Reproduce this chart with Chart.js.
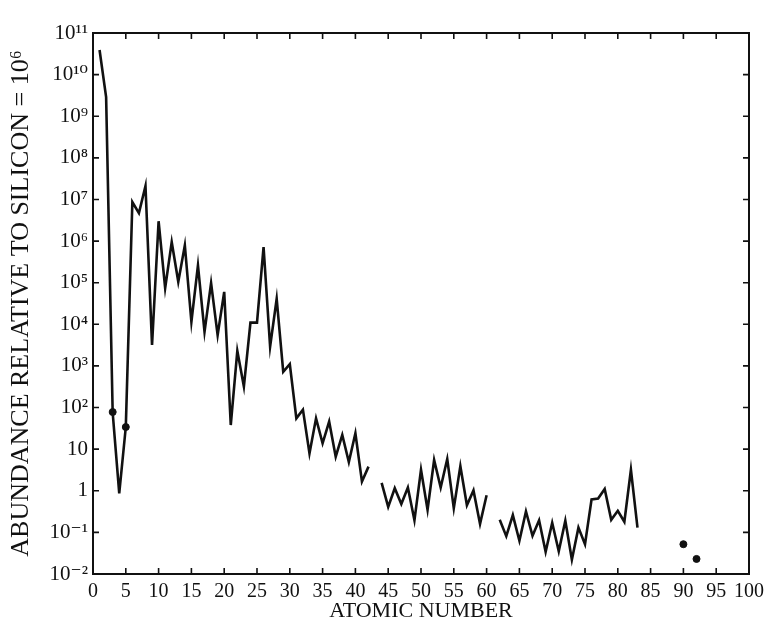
<!DOCTYPE html>
<html>
<head>
<meta charset="utf-8">
<title>Solar system abundances</title>
<script src="https://cdn.jsdelivr.net/npm/chart.js@4.4.1/dist/chart.umd.min.js"></script>
<style>
  html, body { margin: 0; padding: 0; background: #fff; }
  #wrap { width: 773px; height: 636px; }
</style>
</head>
<body>
<div id="wrap"><canvas id="abundanceChart" width="773" height="636"></canvas></div>
<script>
// atomic numbers 1..83 (null abundance = gap in the curve: Tc, Pm)
const atomicNumber = [
  1, 2, 3, 4, 5, 6, 7, 8, 9, 10,
  11, 12, 13, 14, 15, 16, 17, 18, 19, 20,
  21, 22, 23, 24, 25, 26, 27, 28, 29, 30,
  31, 32, 33, 34, 35, 36, 37, 38, 39, 40,
  41, 42, 43, 44, 45, 46, 47, 48, 49, 50,
  51, 52, 53, 54, 55, 56, 57, 58, 59, 60,
  61, 62, 63, 64, 65, 66, 67, 68, 69, 70,
  71, 72, 73, 74, 75, 76, 77, 78, 79, 80,
  81, 82, 83
];

// abundance relative to silicon = 1e6
const abundance = [
  3.9e10, 2.9e9, 75, 0.87, 34, 8.7e6, 4.7e6, 2.1e7, 3.2e3, 3.0e6,
  7.4e4, 9.5e5, 1.05e5, 7.9e5, 1.15e4, 2.6e5, 6.6e3, 9.8e4, 5.5e3, 6.0e4,
  38, 2.3e3, 3.2e2, 1.1e4, 1.1e4, 7.2e5, 2.9e3, 4.1e4, 7.2e2, 1.1e3,
  55, 89, 7.9, 55, 13.8, 46, 6.6, 22, 4.9, 24,
  1.66, 3.8, null, 1.55, 0.41, 1.15, 0.48, 1.2, 0.195, 3.2,
  0.35, 5.5, 1.2, 5.8, 0.38, 3.9, 0.45, 1.02, 0.16, 0.78,
  null, 0.20, 0.081, 0.26, 0.063, 0.32, 0.083, 0.195, 0.034, 0.17,
  0.035, 0.19, 0.022, 0.13, 0.052, 0.62, 0.65, 1.1, 0.20, 0.33,
  0.18, 3.2, 0.13
];

// isolated dots (Li, B, Th, U)
const dotNumber = [3, 5, 90, 92];
const dotAbundance = [78, 34, 0.052, 0.023];

// axis ticks
const xTickValues = [0, 5, 10, 15, 20, 25, 30, 35, 40, 45, 50, 55, 60, 65, 70, 75, 80, 85, 90, 95, 100];
const yTickValues = [1e-2, 1e-1, 1, 1e1, 1e2, 1e3, 1e4, 1e5, 1e6, 1e7, 1e8, 1e9, 1e10, 1e11];
const yTickLabels = ["10⁻²", "10⁻¹", "1", "10", "10²", "10³", "10⁴", "10⁵", "10⁶", "10⁷", "10⁸", "10⁹", "10¹⁰", "10¹¹"];

const ink = "#111";
const serif = "'Liberation Serif', 'DejaVu Serif', serif";

// box frame with inward ticks on all four sides
const frameTicks = {
  id: "frameTicks",
  afterDatasetsDraw(chart) {
    const { ctx, chartArea, scales } = chart;
    const { left, right, top, bottom } = chartArea;
    ctx.save();
    ctx.strokeStyle = ink;
    ctx.lineWidth = 2;
    ctx.strokeRect(left, top, right - left, bottom - top);
    ctx.lineWidth = 1.6;
    ctx.beginPath();
    xTickValues.forEach(v => {
      const px = scales.x.getPixelForValue(v);
      ctx.moveTo(px, bottom); ctx.lineTo(px, bottom - 6);
      ctx.moveTo(px, top); ctx.lineTo(px, top + 6);
    });
    yTickValues.forEach(v => {
      const py = scales.y.getPixelForValue(v);
      ctx.moveTo(left, py); ctx.lineTo(left + 6, py);
      ctx.moveTo(right, py); ctx.lineTo(right - 6, py);
    });
    ctx.stroke();
    ctx.restore();
  }
};

const whiteBg = {
  id: "whiteBg",
  beforeDraw(chart) {
    const ctx = chart.ctx;
    ctx.save();
    ctx.fillStyle = "#fff";
    ctx.fillRect(0, 0, chart.width, chart.height);
    ctx.restore();
  }
};

const ctx = document.getElementById("abundanceChart").getContext("2d");

new Chart(ctx, {
  type: "line",
  data: {
    datasets: [
      {
        label: "Abundance",
        data: atomicNumber.map((z, i) => ({ x: z, y: abundance[i] })),
        borderColor: ink,
        borderWidth: 2.6,
        pointRadius: 0,
        tension: 0,
        spanGaps: false,
        fill: false
      },
      {
        label: "Single points",
        type: "scatter",
        data: dotNumber.map((z, i) => ({ x: z, y: dotAbundance[i] })),
        backgroundColor: ink,
        borderColor: ink,
        pointRadius: 3.5,
        showLine: false
      }
    ]
  },
  options: {
    responsive: false,
    animation: false,
    layout: { padding: { top: 33, right: 24, left: 0, bottom: 0 } },
    plugins: {
      legend: { display: false },
      tooltip: { enabled: false }
    },
    scales: {
      x: {
        type: "linear",
        min: 0,
        max: 100,
        afterFit(scale) { scale.height = 62; },
        afterBuildTicks(scale) { scale.ticks = xTickValues.map(v => ({ value: v })); },
        grid: { display: false, drawTicks: false },
        border: { display: false },
        ticks: {
          autoSkip: false,
          maxRotation: 0,
          padding: 6,
          color: ink,
          font: { family: serif, size: 20 }
        },
        title: {
          display: true,
          text: "ATOMIC NUMBER",
          color: ink,
          font: { family: serif, size: 22 },
          padding: { top: 0, bottom: 12 }
        }
      },
      y: {
        type: "logarithmic",
        min: 1e-2,
        max: 1e11,
        afterFit(scale) { scale.width = 93; },
        afterBuildTicks(scale) { scale.ticks = yTickValues.map(v => ({ value: v })); },
        grid: { display: false, drawTicks: false },
        border: { display: false },
        ticks: {
          autoSkip: false,
          padding: 5,
          color: ink,
          font: { family: serif, size: 21 },
          callback: (value) => {
            const i = yTickValues.findIndex(v => Math.abs(v - value) / v < 1e-6);
            return i >= 0 ? yTickLabels[i] : "";
          }
        },
        title: {
          display: true,
          text: "ABUNDANCE RELATIVE TO SILICON = 10⁶",
          color: ink,
          font: { family: serif, size: 26 },
          padding: { top: 6, bottom: 2 }
        }
      }
    }
  },
  plugins: [whiteBg, frameTicks]
});
</script>
</body>
</html>
